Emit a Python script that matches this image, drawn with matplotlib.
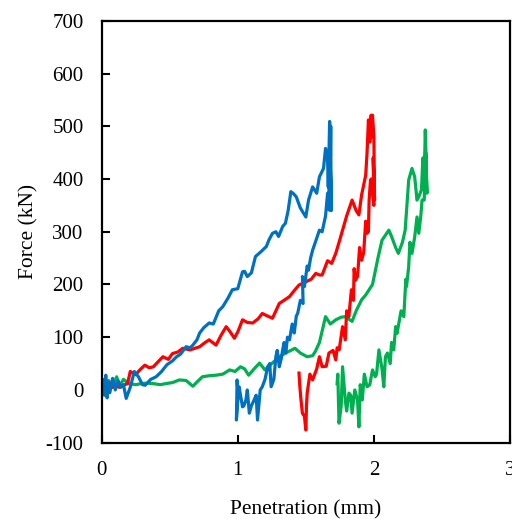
import matplotlib
matplotlib.use("Agg")
import matplotlib.pyplot as plt

# Blue specimen: loading then unloading
blue_x = [0.00, 0.01, 0.02, 0.03, 0.04, 0.05, 0.06, 0.08, 0.10, 0.12, 0.14, 0.16, 0.18, 0.21, 0.24, 0.27, 0.30, 0.32,
          0.36, 0.40, 0.44, 0.48, 0.52, 0.55, 0.58, 0.62, 0.65, 0.67, 0.70, 0.72, 0.75, 0.79, 0.82, 0.86, 0.89, 0.93,
          0.96, 1.00, 1.035, 1.05, 1.07, 1.10, 1.13, 1.17, 1.21, 1.23, 1.255, 1.28, 1.30, 1.33, 1.35, 1.37, 1.39,
          1.41, 1.43, 1.46, 1.50, 1.52, 1.55, 1.58, 1.60, 1.63, 1.645, 1.65, 1.66, 1.665, 1.675,
          1.68, 1.683, 1.686, 1.678, 1.684, 1.668, 1.672, 1.66, 1.645, 1.62, 1.60, 1.57, 1.55, 1.535, 1.52, 1.51,
          1.49, 1.475, 1.48, 1.46, 1.44, 1.43, 1.415, 1.40, 1.38, 1.365, 1.353, 1.34, 1.33, 1.32, 1.305, 1.29,
          1.28, 1.265, 1.245, 1.235, 1.22, 1.20, 1.18, 1.165, 1.145, 1.135, 1.12, 1.10, 1.085, 1.07, 1.06, 1.045,
          1.035, 1.02, 1.01, 1.00, 0.99, 0.995, 1.0]
blue_y = [0, 20, -10, 28, -15, 15, -5, 22, 0, 18, 5, 10, -16, 5, 35, 25, 10, 9,
          20, 25, 35, 48, 55, 63, 68, 82, 80, 85, 95, 108, 118, 127, 125, 150, 158, 175,
          190, 192, 224, 225, 215, 222, 253, 262, 272, 285, 297, 300, 291, 310, 316, 340, 376,
          372, 366, 345, 328, 360, 385, 373, 404, 420, 458, 450, 436, 385, 509,
          420, 500, 340, 460, 360, 420, 341, 373, 330, 300, 303, 280, 265, 250, 227, 235,
          196, 215, 164, 170, 145, 140, 108, 125, 95, 100, 70, 90, 76, 60, 44, 75,
          63, 20, 6, 50, 44, 20, 6, 0, -57, -10, -19, -30, -44, 0, -19, -30,
          -32, -10, 6, -20, -57, 19, 0]

# Red specimen
red_x = [0.00, 0.03, 0.06, 0.10, 0.13, 0.16, 0.19, 0.21, 0.25, 0.28, 0.317, 0.35, 0.38, 0.42, 0.45, 0.49, 0.52,
         0.56, 0.595, 0.65, 0.72, 0.76, 0.79, 0.84, 0.88, 0.915, 0.95, 0.975, 1.00, 1.035, 1.07, 1.11, 1.15,
         1.18, 1.22, 1.255, 1.28, 1.305, 1.34, 1.38, 1.42, 1.45, 1.50, 1.54, 1.573, 1.60, 1.62, 1.66, 1.69,
         1.72, 1.75, 1.77, 1.80, 1.84, 1.87, 1.89, 1.91, 1.94, 1.95, 1.96, 1.97, 1.98, 1.985,
         1.99, 2.00, 2.005, 1.995, 2.0, 1.98, 1.975, 1.965, 1.96, 1.95, 1.94, 1.925, 1.91, 1.895, 1.88, 1.865,
         1.855, 1.85, 1.835, 1.816, 1.80, 1.79, 1.77, 1.745, 1.73, 1.72, 1.70, 1.67, 1.65, 1.62, 1.60, 1.58,
         1.55, 1.53, 1.51, 1.505, 1.50, 1.49, 1.475, 1.465, 1.455, 1.45]
red_y = [5, 10, 3, 8, 5, 9, 12, 35, 29, 38, 47, 42, 44, 55, 63, 58, 69,
         72, 79, 76, 82, 90, 95, 85, 105, 120, 108, 98, 110, 133, 128, 127, 135,
         145, 140, 136, 150, 164, 170, 177, 190, 199, 205, 210, 221, 218, 218, 245, 240,
         259, 285, 303, 330, 360, 340, 332, 370, 407, 450, 512, 470, 521, 480,
         521, 480, 360, 440, 350, 400, 397, 358, 300, 297, 320, 260, 246, 270, 215, 208,
         230, 170, 190, 139, 150, 95, 120, 76, 80, 57, 75, 70, 45, 44, 63, 40,
         19, 30, -6, -30, -76, -50, -44, -20, 10, 32]

# Green specimen
green_x = [0.00, 0.01, 0.03, 0.05, 0.08, 0.11, 0.13, 0.16, 0.20, 0.25, 0.29, 0.33, 0.38, 0.43, 0.47, 0.52, 0.57,
           0.62, 0.67, 0.70, 0.74, 0.79, 0.84, 0.89, 0.94, 0.98, 1.02, 1.05, 1.08, 1.12, 1.16, 1.20, 1.25,
           1.30, 1.35, 1.39, 1.42, 1.46, 1.51, 1.55, 1.57, 1.60, 1.645, 1.68, 1.72, 1.76, 1.79, 1.84, 1.87,
           1.91, 1.94, 1.99, 2.03, 2.06, 2.11, 2.13, 2.16, 2.18, 2.21, 2.23, 2.256, 2.28, 2.30, 2.317, 2.33,
           2.35, 2.36, 2.37, 2.378, 2.385, 2.39, 2.38, 2.37, 2.354, 2.345, 2.33, 2.317, 2.30, 2.28, 2.265,
           2.256, 2.24, 2.235, 2.22, 2.20, 2.17, 2.16, 2.146, 2.13, 2.12, 2.10, 2.085, 2.073, 2.06, 2.037, 2.02,
           2.01, 1.99, 1.97, 1.95, 1.93, 1.915, 1.90, 1.89, 1.88, 1.86, 1.84, 1.83, 1.817, 1.80, 1.79, 1.77,
           1.76, 1.744, 1.735, 1.73]
green_y = [0, 10, -5, 18, 5, 25, 7, 20, 12, 10, 12, 13, 12, 10, 12, 14, 19,
           18, 7, 15, 25, 27, 28, 30, 38, 35, 44, 40, 28, 40, 51, 38, 50,
           62, 70, 75, 79, 70, 63, 65, 73, 90, 139, 125, 133, 138, 139, 130, 150,
           171, 180, 200, 250, 284, 303, 291, 270, 259, 280, 303, 398, 420, 404, 360, 366,
           380, 440, 400, 493, 430, 373, 450, 360, 360, 330, 297, 328, 290, 259, 280,
           234, 196, 210, 139, 150, 107, 120, 76, 90, 50, 70, 63, 6, 40, 76, 30,
           25, 38, 10, 6, 30, -19, 10, -70, -19, 0, -44, -10, -6, -40, -19, 44,
           -30, -63, 30, 12]

x_ticks = [0, 1, 2, 3]
y_ticks = [-100, 0, 100, 200, 300, 400, 500, 600, 700]

plt.rcParams['font.family'] = ['Liberation Serif', 'DejaVu Serif']
plt.rcParams['axes.unicode_minus'] = False

fig = plt.figure(figsize=(5.12, 5.19), dpi=100)
ax = fig.add_axes([0.1986, 0.147, 0.7974, 0.813])

lw = 2.3
ax.plot(green_x, green_y, color='#00B050', lw=lw, solid_joinstyle='round')
ax.plot(red_x, red_y, color='#FF0000', lw=lw, solid_joinstyle='round')
ax.plot(blue_x, blue_y, color='#0070C0', lw=lw, solid_joinstyle='round')

ax.set_xlim(0, 3)
ax.set_ylim(-100, 700)
ax.set_xticks(x_ticks)
ax.set_yticks(y_ticks)
ax.tick_params(direction='in', length=6, width=1.5, labelsize=15, pad=13,
               top=False, right=False)
for s in ax.spines.values():
    s.set_linewidth(1.6)
ax.set_xlabel('Penetration (mm)', fontsize=15.5, labelpad=15)
ax.set_ylabel('Force (kN)', fontsize=15.5, labelpad=5)

fig.savefig('out.png', dpi=100)
